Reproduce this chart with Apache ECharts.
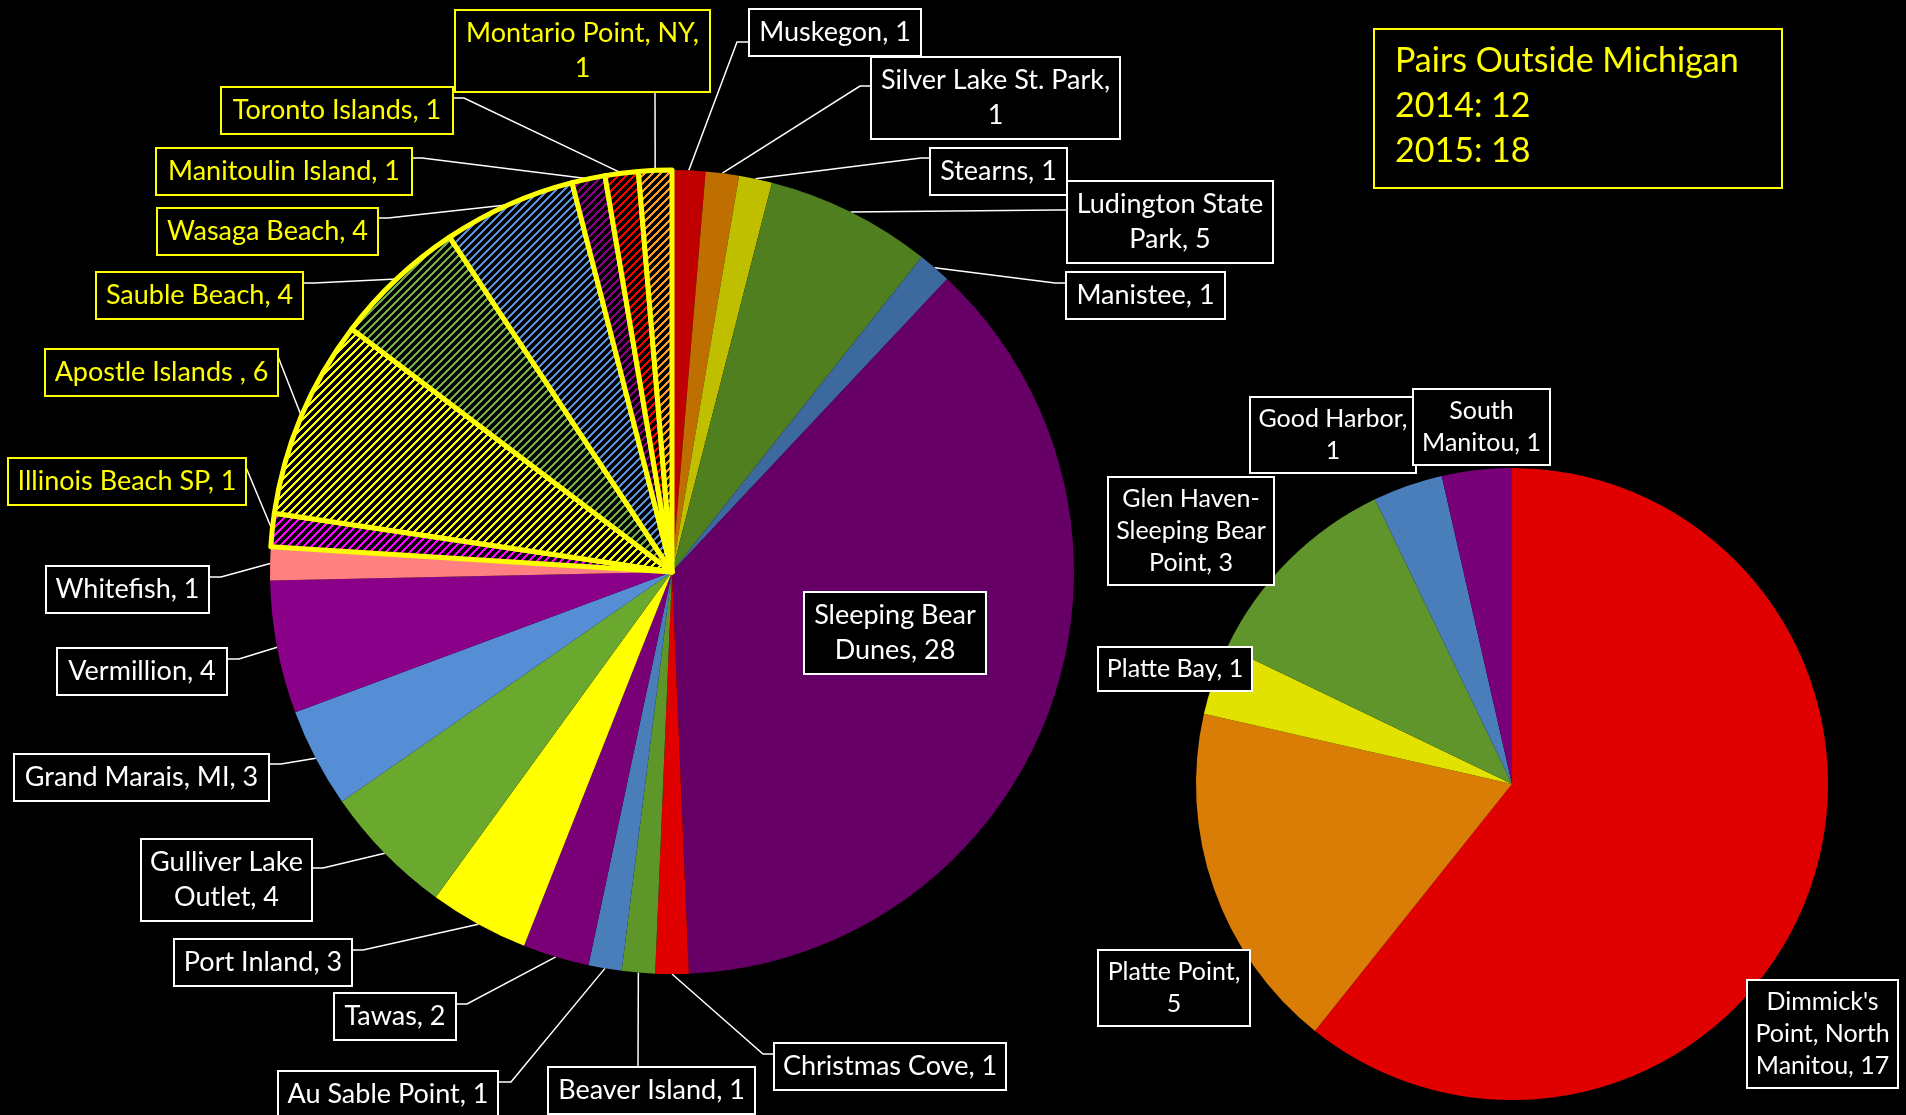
<!DOCTYPE html>
<html>
<head>
<meta charset="utf-8">
<title>Nesting pairs</title>
<script src="https://cdn.jsdelivr.net/npm/echarts@6/dist/echarts.min.js"></script>
<style>
html,body{margin:0;padding:0;background:#000;}
#main{width:1906px;height:1115px;}
</style>
</head>
<body>
<div id="main"></div>
<script>
// left pie, clockwise from 12 o'clock
var siteNames = ['Muskegon', 'Silver Lake St. Park', 'Stearns', 'Ludington State Park', 'Manistee',
	'Sleeping Bear Dunes', 'Christmas Cove', 'Beaver Island', 'Au Sable Point', 'Tawas', 'Port Inland',
	'Gulliver Lake Outlet', 'Grand Marais, MI', 'Vermillion', 'Whitefish', 'Illinois Beach SP',
	'Apostle Islands ', 'Sauble Beach', 'Wasaga Beach', 'Manitoulin Island', 'Toronto Islands', 'Montario Point, NY'];
var sitePairs = [1, 1, 1, 5, 1, 28, 1, 1, 1, 2, 3, 4, 3, 4, 1, 1, 6, 4, 4, 1, 1, 1];
var siteOutside = [0, 0, 0, 0, 0, 0, 0, 0, 0, 0, 0, 0, 0, 0, 0, 1, 1, 1, 1, 1, 1, 1];
var siteColors = ['#C00000', '#BF6F00', '#BFBF00', '#4F7F1F', '#3D6A9E', '#660066', '#E00000', '#5E962A',
	'#4A7EBB', '#7A0077', '#FFFF00', '#6BA82E', '#558ED5', '#8B0089', '#FF8080', '#FF00FF',
	'#FFFF00', '#70AD47', '#558ED5', '#8B0089', '#FF0000', '#FF9B1A'];

// right pie: Sleeping Bear Dunes split up
var dunesNames = ["Dimmick's Point, North Manitou", 'Platte Point', 'Platte Bay',
	'Glen Haven-Sleeping Bear Point', 'Good Harbor', 'South Manitou'];
var dunesPairs = [17, 5, 1, 3, 1, 1];
var dunesColors = ['#E00000', '#D97D07', '#E2E200', '#5F952A', '#4A7EBB', '#780078'];

// text box top right
var outsideTitle = 'Pairs Outside Michigan';
var outsideYears = ['2014', '2015'];
var outsidePairs = [12, 18];

var YEL = '#FFFF00';

// label boxes [left, top, width] and leader ends [x, y, bendX]
var leftBoxes = [[750,10,170],[872,58,247],[931,149,135],[1068,182,204],[1067,273,157],[805,593,180],
	[775,1044,230],[549,1068,205],[279,1072,218],[335,994,120],[175,940,176],[142,840,169],[15,755,253],
	[58,649,168],[47,567,161],[9,459,236],[46,350,231],[97,273,205],[158,209,219],[157,149,254],
	[222,88,230],[456,11,253]];
var leftLeaders = [[750,42,737],[872,86,860],[931,158,921],[1068,210,1056],[1067,283,1055],null,
	[775,1054,763],[638,1068,null],[497,1082,511],[455,1004,467],[351,950,363],[311,868,323],[268,764,281],
	[226,659,239],[208,577,221],[245,465,null],[277,354,null],[302,283,314],[377,218,388],[411,158,422],
	[452,98,464],[655,90,null]];
var leftBreaks = {1: [4, 1], 3: [2, 2], 5: [2, 2], 11: [2, 2], 21: [3, 1]};

var rightBoxes = [[1748,981,149],[1099,951,150],[1099,648,152],[1109,478,164],[1251,398,164],[1414,390,135]];
var rightBreaks = {0: [1, 2, 2], 1: [2, 1], 3: [2, 2, 2], 4: [2, 1], 5: [1, 2]};

function tokens(s) {
	var out = [];
	s.split(' ').forEach(function (w) {
		if (!w) return;
		var parts = w.split('-');
		for (var i = 0; i < parts.length; i++) {
			out.push(i < parts.length - 1 ? parts[i] + '-' : parts[i]);
		}
	});
	return out;
}

function wrapLabel(text, counts) {
	if (!counts) return text;
	var t = tokens(text), k = 0, lines = [];
	counts.forEach(function (n) {
		var line = '';
		for (var j = 0; j < n && k < t.length; j++, k++) {
			if (line && line.charAt(line.length - 1) != '-') line += ' ';
			line += t[k];
		}
		lines.push(line);
	});
	return lines.join('\n');
}

// excel style wide upward diagonal
function hatch(color) {
	var c = document.createElement('canvas');
	c.width = 8; c.height = 8;
	var ctx = c.getContext('2d');
	ctx.fillStyle = '#000';
	ctx.fillRect(0, 0, 8, 8);
	ctx.fillStyle = color;
	for (var y = 0; y < 8; y++) {
		for (var x = 0; x < 8; x++) {
			if ((x + y) % 8 < 3) ctx.fillRect(x, y, 1, 1);
		}
	}
	return c;
}

function makeLayout(boxes, leaders) {
	return function (params) {
		var b = boxes[params.dataIndex];
		var out = {x: b[0] + b[2] / 2, y: b[1], align: 'center', verticalAlign: 'top'};
		var ld = leaders && leaders[params.dataIndex];
		if (ld && params.labelLinePoints) {
			var pts = [params.labelLinePoints[0]];
			if (ld[2] != null) pts.push([ld[2], ld[1]]);
			pts.push([ld[0], ld[1]]);
			out.labelLinePoints = pts;
		}
		return out;
	};
}

var leftData = siteNames.map(function (n, i) {
	var out = siteOutside[i] == 1;
	var item = {
		name: n,
		value: sitePairs[i],
		itemStyle: {color: out ? {image: hatch(siteColors[i]), repeat: 'repeat'} : siteColors[i]},
		label: {
			width: leftBoxes[i][2] - 18,
			color: out ? YEL : '#FFFFFF',
			borderColor: out ? YEL : '#FFFFFF'
		}
	};
	if (out) {
		item.itemStyle.borderColor = YEL;
		item.itemStyle.borderWidth = 5;
		item.itemStyle.borderJoin = 'round';
	}
	if (!leftLeaders[i]) item.labelLine = {show: false};
	return item;
});

var rightData = dunesNames.map(function (n, i) {
	return {
		name: n,
		value: dunesPairs[i],
		itemStyle: {color: dunesColors[i]},
		label: {width: rightBoxes[i][2] - 16}
	};
});

var boxLines = [outsideTitle];
for (var i = 0; i < outsideYears.length; i++) boxLines.push(outsideYears[i] + ': ' + outsidePairs[i]);

var chart = echarts.init(document.getElementById('main'));
chart.setOption({
	backgroundColor: '#000000',
	animation: false,
	graphic: [{
		type: 'text',
		left: 1373,
		top: 28,
		style: {
			text: boxLines.join('\n'),
			fill: YEL,
			font: '34px Lato',
			lineHeight: 45,
			width: 366,
			padding: [9, 20, 13, 20],
			backgroundColor: '#000',
			borderColor: YEL,
			borderWidth: 2
		}
	}],
	series: [{
		type: 'pie',
		center: [672, 572],
		radius: 402,
		startAngle: 90,
		clockwise: true,
		avoidLabelOverlap: false,
		silent: true,
		emphasis: {disabled: true},
		label: {
			show: true,
			position: 'outside',
			formatter: function (p) {
				return wrapLabel(p.name + ', ' + p.value, leftBreaks[p.dataIndex]);
			},
			fontFamily: 'Lato',
			fontSize: 27,
			lineHeight: 35,
			padding: [5, 9],
			align: 'center',
			overflow: 'none',
			backgroundColor: '#000',
			borderWidth: 2
		},
		labelLine: {show: true, length: 10, length2: 10, lineStyle: {color: '#FFFFFF', width: 1.5}},
		labelLayout: makeLayout(leftBoxes, leftLeaders),
		data: leftData
	}, {
		type: 'pie',
		center: [1512, 784],
		radius: 316,
		startAngle: 90,
		clockwise: true,
		avoidLabelOverlap: false,
		silent: true,
		emphasis: {disabled: true},
		label: {
			show: true,
			position: 'outside',
			formatter: function (p) {
				return wrapLabel(p.name + ', ' + p.value, rightBreaks[p.dataIndex]);
			},
			fontFamily: 'Lato',
			fontSize: 25,
			lineHeight: 32,
			padding: [5, 8],
			align: 'center',
			overflow: 'none',
			color: '#FFFFFF',
			backgroundColor: '#000',
			borderColor: '#FFFFFF',
			borderWidth: 2
		},
		labelLine: {show: false},
		labelLayout: makeLayout(rightBoxes, null),
		data: rightData
	}]
});
</script>
</body>
</html>
